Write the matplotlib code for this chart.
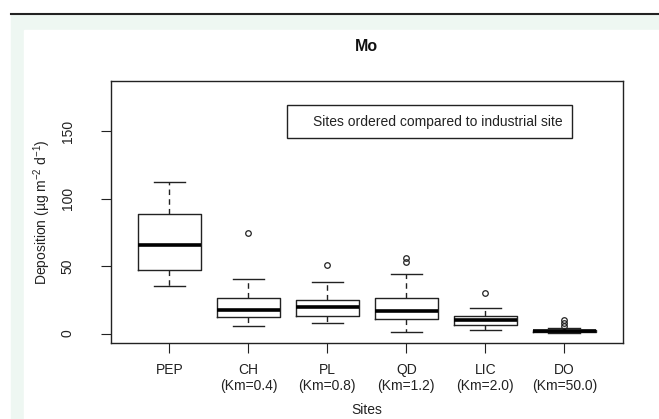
import matplotlib
matplotlib.use('Agg')
import matplotlib.pyplot as plt
from matplotlib.patches import Rectangle
from matplotlib.lines import Line2D

plt.rcParams['font.family'] = ['Liberation Sans', 'DejaVu Sans']
plt.rcParams['mathtext.fontset'] = 'custom'
plt.rcParams['mathtext.rm'] = 'Liberation Sans'
plt.rcParams['mathtext.it'] = 'Liberation Sans:italic'
plt.rcParams['mathtext.default'] = 'regular'

# box statistics (ug m-2 d-1)
sites = ['PEP', 'CH\n(Km=0.4)', 'PL\n(Km=0.8)', 'QD\n(Km=1.2)', 'LIC\n(Km=2.0)', 'DO\n(Km=50.0)']
whis_lo = [35.0, 5.6, 7.9, 1.2, 2.7, 0.3]
q1 = [47.0, 12.1, 12.8, 10.6, 6.4, 1.2]
med = [66.0, 17.2, 19.7, 16.5, 10.1, 1.9]
q3 = [88.7, 26.6, 25.1, 26.1, 13.0, 2.6]
whis_hi = [112.6, 40.7, 38.5, 44.4, 18.7, 4.1]
outliers = [[], [74.4], [51.0], [52.7, 55.9], [30.0], [5.6, 7.6, 9.7]]

fig = plt.figure(figsize=(6.59, 4.19), dpi=100)
W, H = 659, 419

# page decoration: light green strip and dark rule at the top
green = '#eef7f2'
fig.patches.append(Rectangle((11 / W, 0), (659 - 11) / W, (419 - 15) / H,
                             transform=fig.transFigure, color=green, zorder=-10))
fig.patches.append(Rectangle((24 / W, 0), (659 - 24) / W, (419 - 30) / H,
                             transform=fig.transFigure, color='white', zorder=-9))
fig.lines.append(Line2D([11 / W, 1], [1 - 14 / H, 1 - 14 / H], transform=fig.transFigure,
                        color='#222222', lw=1.5, zorder=-8))

ax = fig.add_axes([111 / W, 1 - 343.3 / H, (622.7 - 111) / W, (343.3 - 81) / H])
ax.set_zorder(1)

stats = []
for i in range(len(sites)):
    stats.append({'whislo': whis_lo[i], 'q1': q1[i], 'med': med[i], 'q3': q3[i],
                  'whishi': whis_hi[i], 'fliers': outliers[i]})

ax.bxp(stats, positions=range(1, 7), widths=0.8, showfliers=True,
       boxprops=dict(color='#222222', lw=1.0),
       medianprops=dict(color='black', lw=2.6, solid_capstyle='butt'),
       whiskerprops=dict(color='#222222', lw=1.0, linestyle=(0, (4, 3))),
       capprops=dict(color='#222222', lw=1.0),
       capwidths=0.4,
       flierprops=dict(marker='o', markerfacecolor='none', markeredgecolor='#222222',
                       markersize=4.0, markeredgewidth=0.9))

ax.set_xlim(0.26, 6.74)
ax.set_ylim(-7.2, 187.2)
ax.set_yticks([0, 50, 100, 150])
ax.set_xticks(range(1, 7))
ax.set_xticklabels(sites, fontsize=10, color='#222222')
ax.tick_params(axis='y', labelsize=10, labelcolor='#222222', length=7, pad=19,
               labelrotation=90, color='#222222')
ax.tick_params(axis='x', length=7, pad=7, color='#222222')
for lab in ax.get_yticklabels():
    lab.set_va('center')
for sp in ax.spines.values():
    sp.set_color('#222222')
    sp.set_linewidth(1.0)

ax.set_ylabel('Deposition (µg m$^{-2}$ d$^{-1}$)', fontsize=10, color='#222222')
ax.yaxis.set_label_coords(-0.135, 0.5)
ax.yaxis.label.set_va('center')
ax.set_xlabel('Sites', fontsize=10, color='#222222')
ax.xaxis.set_label_coords(0.5, -0.256)
ax.xaxis.label.set_va('center')

ax.text(0.5, 1.13, 'Mo', transform=ax.transAxes, ha='center', va='center',
        fontsize=11.5, fontweight='bold', color='#111111')

# note box
ax.add_patch(Rectangle((0.3445, 0.7816), 0.9003 - 0.3445, 0.9085 - 0.7816,
                       transform=ax.transAxes, fill=False, edgecolor='#222222', lw=1.0))
ax.text(0.3942, 0.845, 'Sites ordered compared to industrial site', transform=ax.transAxes,
        ha='left', va='center', fontsize=10, color='#222222')

fig.savefig('out.png', dpi=100)
